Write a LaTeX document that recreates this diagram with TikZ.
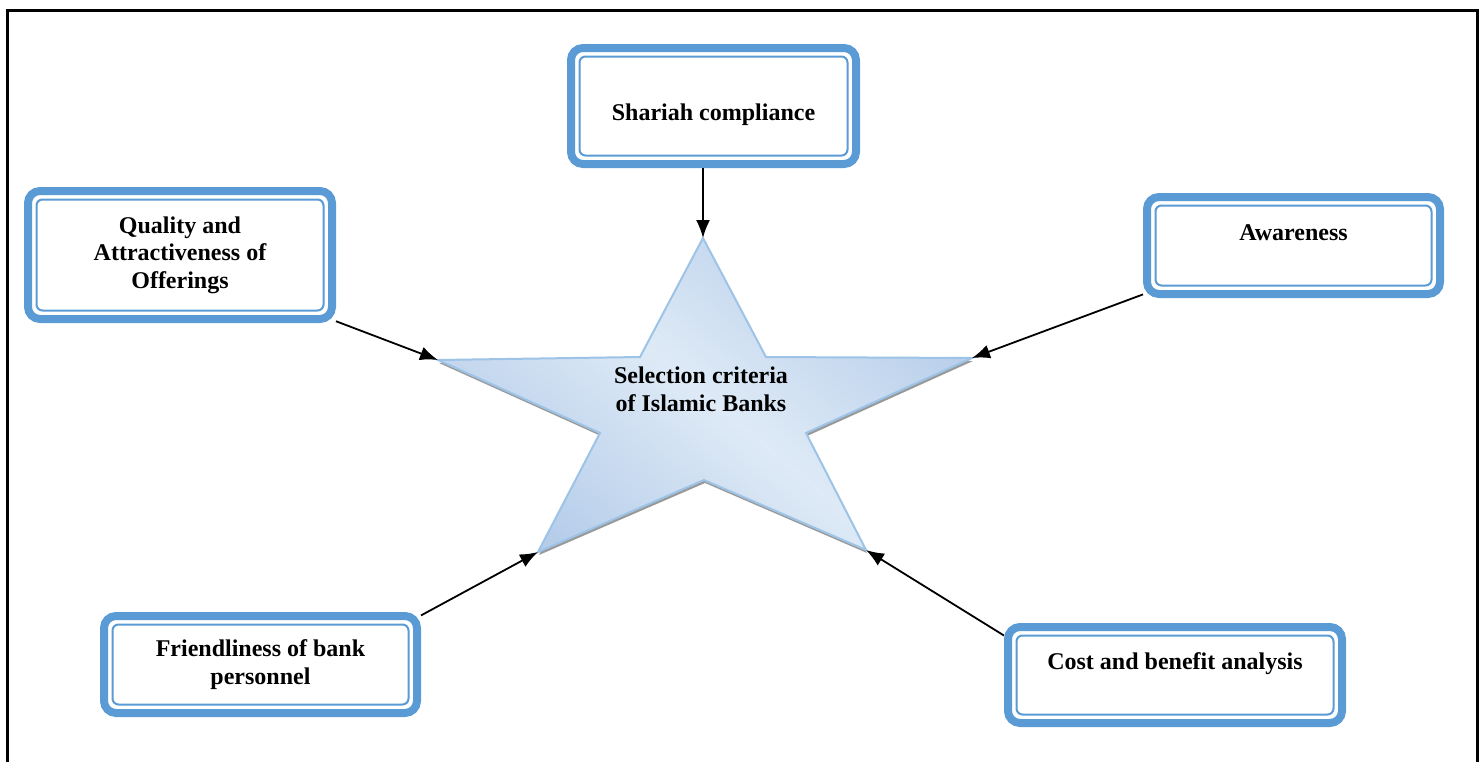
\documentclass[tikz,border=0pt]{standalone}
\usepackage{fontspec}
\setmainfont{Liberation Serif}
\usepackage{tikz}
\usetikzlibrary{arrows.meta,calc}
\definecolor{boxblue}{HTML}{5B9BD5}
\definecolor{starline}{HTML}{9DC3E6}
\definecolor{starlight}{HTML}{DEEAF6}
\definecolor{stardark}{HTML}{B6CDEA}
\tikzset{
    critbox/.style={draw=boxblue, line width=4pt, rounded corners=6pt, fill=white, align=center,
        font=\bfseries\fontsize{12}{13.8}\selectfont,
        path picture={\draw[boxblue, line width=1pt, rounded corners=3pt]
            ([shift={(4.25pt,-4.25pt)}]path picture bounding box.north west) rectangle
            ([shift={(-4.25pt,4.25pt)}]path picture bounding box.south east);}},
    link/.style={-{Latex[length=9pt,width=7pt]}, line width=0.9pt}
}

\begin{document}
\begin{tikzpicture}[x=0.5pt,y=-0.5pt]
    \useasboundingbox (0,0) rectangle (1480,762);
    \draw[line width=1.5pt] (7,762) -- (7,10) -- (1477,10) -- (1477,762);

    % star
    \shadedraw[draw=starline, line width=1pt, left color=stardark, right color=stardark, middle color=starlight, shading angle=140,
        preaction={fill=black!40, transform canvas={shift={(0.5pt,-1.5pt)}}}]
        (703,238) coordinate (tipN) -- (766,357) -- (972,358) coordinate (tipE) -- (806,433)
        -- (866,550) coordinate (tipSE) -- (704,480) -- (538,552) coordinate (tipSW)
        -- (600,433) -- (438,360) coordinate (tipW) -- (640,357) -- cycle;
    \node[font=\bfseries\fontsize{12}{13.8}\selectfont, align=center] (center) at (701,389.5) {Selection criteria\\of Islamic Banks};

    \node[critbox, minimum width=142.5pt, minimum height=58pt, text height=16pt, text depth=2pt] (shariah) at (713.5,106) {Shariah compliance};
    \node[critbox, minimum width=152pt, minimum height=64pt] (quality) at (180,255) {Quality and\\Attractiveness of\\Offerings};
    \node[critbox, minimum width=146.5pt, minimum height=48.5pt, text height=8pt, text depth=13.5pt] (aware) at (1293.5,245.5) {Awareness};
    \node[critbox, minimum width=156.5pt, minimum height=48.5pt] (friend) at (260.5,664.5) {Friendliness of bank\\personnel};
    \node[critbox, minimum width=167pt, minimum height=48pt, text height=8pt, text depth=14pt] (cost) at (1175,675) {Cost and benefit analysis};

    \draw[link] (shariah.south -| tipN) -- (tipN);
    \draw[link] (quality.-23) -- (tipW);
    \draw[link] (aware.198) -- (tipE);
    \draw[link] (friend.17) -- (tipSW);
    \draw[link] (cost.167) -- (tipSE);
\end{tikzpicture}
\end{document}
